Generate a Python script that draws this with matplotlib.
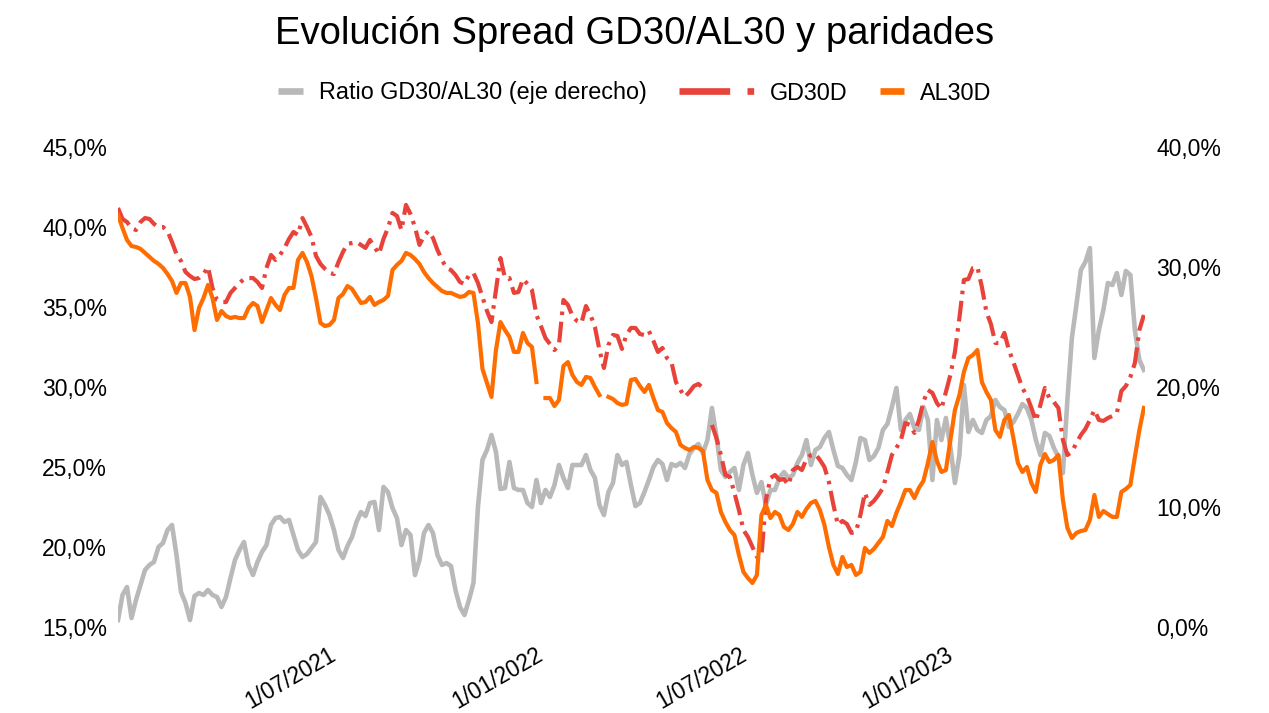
import numpy as np
import pandas as pd
import matplotlib
matplotlib.use("Agg")
import matplotlib.pyplot as plt
from matplotlib.lines import Line2D
from matplotlib.legend_handler import HandlerLine2D

nan = np.nan
plt.rcParams['font.family'] = ['Liberation Sans', 'DejaVu Sans']

title = "Evolución Spread GD30/AL30 y paridades"
dates = pd.date_range('2020-12-21', periods=229, freq='4D')

al30d = [
40.75, 39.94, 39.19, 38.81, 38.75, 38.63, 38.38, 38.13, 37.88, 37.69,
37.44, 37.06, 36.63, 35.88, 36.50, 36.50, 35.63, 33.56, 34.94, 35.56,
36.38, 35.56, 34.19, 34.75, 34.44, 34.31, 34.38, 34.31, 34.31, 34.94,
35.25, 35.06, 34.06, 34.81, 35.56, 35.13, 34.81, 35.75, 36.19, 36.19,
37.94, 38.38, 37.81, 36.94, 35.56, 34.00, 33.81, 33.88, 34.19, 35.56,
35.81, 36.31, 36.13, 35.69, 35.25, 35.31, 35.63, 35.13, 35.31, 35.44,
35.69, 37.31, 37.63, 37.88, 38.38, 38.25, 38.00, 37.69, 37.19, 36.81,
36.50, 36.25, 36.00, 35.88, 35.88, 35.75, 35.63, 35.69, 35.94, 35.88,
34.00, 31.13, 30.25, 29.38, 32.31, 34.06, 33.56, 33.13, 32.19, 32.19,
33.38, 32.75, 32.50, 30.31, nan, 29.31, 29.31, 28.81, 29.19, 31.31,
31.56, 30.75, 30.31, 30.13, 30.63, 30.56, 30.00, 29.50, nan, 29.38,
29.25, 29.00, 28.88, 28.94, 30.44, 30.50, 30.06, 29.69, 30.13, 29.31,
28.56, 28.44, 27.75, 27.44, 27.19, 26.38, 26.19, 26.06, 26.25, 26.19,
26.00, 24.19, 23.56, 23.38, 22.19, 21.56, 21.06, 20.75, 19.50, 18.44,
18.06, 17.75, 18.25, 22.00, 22.63, 21.81, 22.19, 22.00, 21.25, 21.06,
21.44, 22.19, 21.88, 22.38, 22.75, 22.88, 22.31, 21.38, 20.00, 18.88,
18.31, 19.38, 18.75, 18.88, 18.25, 18.44, 19.94, 19.63, 19.88, 20.25,
20.63, 21.63, 21.31, 22.13, 22.81, 23.56, 23.56, 23.06, 23.69, 24.13,
25.25, 26.56, 25.38, 24.69, 24.81, 26.69, 28.56, 29.50, 30.94, 31.81,
32.00, 32.31, 30.31, 29.69, 29.19, 27.31, 26.88, 27.94, 28.25, 26.81,
25.25, 24.69, 25.00, 24.00, 23.44, 25.13, 25.81, 25.31, 25.44, 25.75,
22.94, 21.19, 20.56, 20.88, 21.00, 21.06, 21.69, 23.25, 21.88, 22.25,
22.06, 21.88, 21.88, 23.44, 23.63, 23.88, 25.63, 27.31, 28.69]

gd30d = [
41.19, 40.50, 40.31, 39.94, 39.81, 40.31, 40.56, 40.50, 40.19, 40.00,
40.00, 39.75, 39.06, 38.31, 37.88, 37.19, 36.94, 36.75, 36.81, 37.06,
37.50, 36.19, 35.44, 35.31, 35.31, 35.88, 36.19, 36.50, 36.75, 36.81,
36.81, 36.56, 36.19, 37.44, 38.25, 37.94, 38.25, 38.69, 39.25, 39.69,
39.50, 40.56, 40.00, 39.38, 38.19, 37.69, 37.38, 37.13, 37.06, 37.81,
38.44, 38.94, 39.00, 39.06, 38.88, 38.69, 39.19, 38.75, 38.31, 39.25,
39.94, 40.88, 40.69, 39.81, 41.38, 40.81, 40.00, 38.88, 39.44, 39.75,
39.31, 38.56, 37.94, 37.44, 37.31, 37.00, 36.56, 36.44, 37.00, 37.13,
36.50, 35.63, 34.75, 34.06, 36.06, 38.06, 36.81, 36.81, 35.88, 35.94,
36.75, 36.44, 36.06, 34.50, 33.81, 33.06, 32.69, 32.31, 32.63, 35.44,
35.13, 34.44, 34.13, 34.00, 35.06, 34.50, 33.75, 32.31, 31.19, 32.63,
33.25, 33.19, 32.38, 33.25, 33.69, 33.69, 33.31, 33.25, 33.50, 32.88,
32.19, 32.44, 31.81, 31.56, 30.31, 29.81, 29.38, 29.69, 30.06, 30.19,
29.94, nan, 27.63, 26.81, 25.75, 24.50, 24.38, 23.38, 22.31, 21.06,
20.63, 20.00, 19.38, 19.38, 22.94, 24.31, 24.50, 24.19, 24.25, 23.88,
24.81, 25.00, 24.81, 25.50, 25.75, 25.81, 25.44, 25.00, 24.06, 22.63,
21.38, 21.63, 21.44, 20.88, 20.94, 22.00, 23.38, 22.63, 22.88, 23.25,
23.69, 24.69, 25.75, 26.19, 26.69, 27.75, 27.63, 27.13, 27.94, 29.06,
29.81, 29.63, 29.00, 28.63, 29.69, 30.75, 32.19, 34.31, 36.69, 36.75,
37.44, 37.50, 36.25, 34.69, 33.94, 32.75, 32.75, 33.38, 32.31, 31.56,
30.75, 29.94, 29.44, 28.69, 27.88, 28.88, 29.94, 29.31, 29.06, 28.69,
26.69, 25.75, 25.94, 26.50, 27.00, 27.38, 27.94, 28.56, 27.94, 27.88,
28.06, 28.19, 28.38, 29.75, 30.06, 30.63, 31.50, 33.56, 34.50]

ratio = [
0.58, 2.67, 3.33, 0.75, 2.25, 3.50, 4.75, 5.17, 5.42, 6.67,
7.00, 8.08, 8.50, 6.00, 2.92, 2.00, 0.58, 2.58, 2.83, 2.67,
3.08, 2.67, 2.50, 1.67, 2.50, 4.08, 5.58, 6.42, 7.08, 5.17,
4.33, 5.42, 6.25, 6.83, 8.50, 9.08, 9.17, 8.75, 8.92, 7.67,
6.42, 5.83, 6.08, 6.58, 7.08, 10.83, 10.17, 9.33, 8.08, 6.42,
5.75, 6.75, 7.50, 8.75, 9.58, 9.25, 10.33, 10.42, 8.08, 11.67,
11.25, 9.92, 9.08, 6.83, 8.08, 7.67, 4.33, 5.58, 7.83, 8.50,
7.83, 6.00, 5.17, 5.33, 5.08, 3.08, 1.67, 1.00, 2.25, 3.67,
10.00, 13.92, 14.75, 16.00, 14.58, 11.50, 11.58, 13.75, 11.58, 11.42,
11.42, 10.33, 10.00, 12.25, 10.33, 11.42, 10.83, 11.83, 13.50, 12.42,
11.58, 13.50, 13.50, 13.50, 14.33, 13.08, 12.42, 10.17, 9.33, 11.25,
12.00, 14.33, 13.50, 13.75, 11.83, 10.08, 10.33, 11.25, 12.25, 13.33,
13.92, 13.58, 12.25, 13.58, 13.42, 13.67, 13.25, 14.42, 14.92, 15.25,
14.50, 15.58, 18.25, 15.92, 13.08, 12.50, 12.92, 13.25, 11.42, 13.50,
14.50, 12.67, 11.17, 12.08, 10.17, 11.42, 11.42, 12.42, 12.92, 12.42,
12.67, 13.67, 14.33, 15.58, 13.50, 14.75, 15.00, 15.75, 16.25, 14.75,
13.42, 13.25, 12.67, 12.25, 13.75, 15.75, 15.58, 13.92, 14.25, 14.92,
16.42, 16.92, 18.33, 19.92, 16.42, 17.25, 17.75, 16.58, 16.42, 18.33,
17.25, 12.25, 17.25, 15.58, 17.42, 15.00, 12.00, 14.33, 20.17, 16.25,
17.25, 16.42, 16.17, 17.25, 17.58, 18.92, 18.33, 18.08, 16.67, 17.08,
17.75, 18.58, 18.25, 17.25, 15.58, 14.33, 16.17, 15.92, 14.92, 14.17,
12.83, 18.92, 24.08, 26.83, 29.75, 30.42, 31.58, 22.42, 24.75, 26.42,
28.67, 28.50, 29.50, 27.67, 29.67, 29.33, 24.75, 22.25, 21.42]

left_ticks = [15, 20, 25, 30, 35, 40, 45]
right_ticks = [0, 10, 20, 30, 40]
x_ticks = ['2021-07-01', '2022-01-01', '2022-07-01', '2023-01-01']
x_labels = ['1/07/2021', '1/01/2022', '1/07/2022', '1/01/2023']

C_GRAY = '#b9b9b9'
C_RED = '#e8433a'
C_ORANGE = '#ff6d01'
RED_DASH = (0, (5, 1.6, 0.85, 1.6))

fig = plt.figure(figsize=(12.69, 7.13), dpi=100)
ax = fig.add_axes([118/1269, 86/713, 1027/1269, 480/713])
ax2 = ax.twinx()
ax.set_zorder(ax2.get_zorder() + 1)
ax.patch.set_visible(False)

ax2.plot(dates, ratio, color=C_GRAY, lw=3.3, solid_joinstyle='round')
ax.plot(dates, gd30d, color=C_RED, lw=3.0, linestyle=RED_DASH, dash_capstyle='butt')
ax.plot(dates, al30d, color=C_ORANGE, lw=3.0, solid_joinstyle='round')

ax.set_ylim(15, 45)
ax2.set_ylim(0, 40)
ax.set_xlim(dates[0], dates[-1] + pd.Timedelta(days=1))

fmt = lambda v: f"{v:.1f}".replace('.', ',') + '%'
ax.set_yticks(left_ticks)
ax.set_yticklabels([fmt(v) for v in left_ticks])
ax2.set_yticks(right_ticks)
ax2.set_yticklabels([fmt(v) for v in right_ticks])
ax.set_xticks(pd.to_datetime(x_ticks))
ax.set_xticklabels(x_labels, rotation=30, ha='right', va='center', rotation_mode='anchor')

for a in (ax, ax2):
    for s in a.spines.values():
        s.set_visible(False)
ax.tick_params(axis='y', length=0, pad=8, labelsize=16.5)
ax2.tick_params(axis='y', length=0, pad=8, labelsize=16.5)
ax.tick_params(axis='x', length=0, pad=18.5, labelsize=16.3)

fig.text(0.5, 1 - 44/713, title, ha='center', va='baseline', fontsize=27.5)


class SizedHandler(HandlerLine2D):
    def __init__(self, length, **kw):
        super().__init__(**kw)
        self.length = length

    def legend_artist(self, legend, orig_handle, fontsize, handlebox):
        handlebox.width = self.length * fontsize
        return super().legend_artist(legend, orig_handle, fontsize, handlebox)


h_gray = Line2D([], [], color=C_GRAY, lw=4.8, solid_capstyle='butt')
h_red = Line2D([], [], color=C_RED, lw=4.8, linestyle=(0, (7.6, 2.6, 1.0, 2.6)), dash_capstyle='butt')
h_orange = Line2D([], [], color=C_ORANGE, lw=4.8, solid_capstyle='butt')
fig.legend([h_gray, h_red, h_orange],
           ['Ratio GD30/AL30 (eje derecho)', 'GD30D', 'AL30D'],
           handler_map={h_gray: SizedHandler(1.07), h_red: SizedHandler(3.2), h_orange: SizedHandler(1.03)},
           loc='center', bbox_to_anchor=(0.5, 1 - 93/713), ncol=3, frameon=False,
           fontsize=16.8, handletextpad=0.69, columnspacing=1.39, handlelength=1.1)

fig.savefig('out.png', dpi=100)
